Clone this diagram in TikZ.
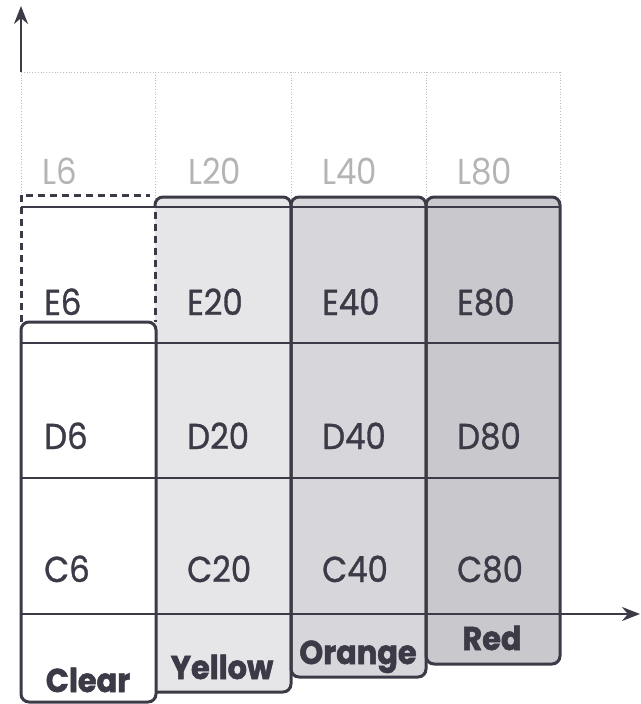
\documentclass[tikz,border=0pt]{standalone}
\usepackage{fontspec}
\setmainfont{Poppins}[FakeStretch=0.9]
\newfontfamily\cellfont{Poppins}[FakeStretch=0.9,FakeBold=0.9]
\newfontfamily\tagfont{Poppins}[FakeStretch=0.92,BoldFeatures={FakeBold=1.6}]
\usetikzlibrary{arrows.meta}
\definecolor{ink}{HTML}{3B3A46}
\definecolor{fillY}{HTML}{E6E6E9}
\definecolor{fillO}{HTML}{D7D7DB}
\definecolor{fillR}{HTML}{C9C9CD}
\definecolor{gridc}{HTML}{BDBDBD}
\definecolor{lgray}{HTML}{B4B4B4}
\begin{document}
\begin{tikzpicture}[x=1pt,y=-1pt,
  boxline/.style={draw=ink,line width=3pt,rounded corners=8pt},
  rowline/.style={draw=ink,line width=1.9pt},
  gridline/.style={draw=gridc,line width=0.8pt,dotted},
  dashbox/.style={draw=ink,line width=3pt,dash pattern=on 7pt off 5pt},
  axisline/.style={draw=ink,line width=2pt},
  tip/.style={-{Stealth[length=18pt,width=14pt]}},
  cell/.style={anchor=base west,inner sep=0pt,text=ink,font=\cellfont\fontsize{36}{36}\selectfont},
  lcell/.style={anchor=base west,inner sep=0pt,text=lgray,font=\fontsize{36}{36}\selectfont},
  tag/.style={anchor=base,inner sep=0pt,text=ink,font=\tagfont\fontsize{33}{33}\selectfont\bfseries}]
\useasboundingbox (0,0) rectangle (640,704);
% fills
\fill[fillY,rounded corners=8pt] (155,197) rectangle (291,692);
\fill[fillO,rounded corners=8pt] (291,197) rectangle (426,677);
\fill[fillR,rounded corners=8pt] (426,197) rectangle (560,664);
% grid above
\draw[gridline] (21,72) -- (560,72);
\foreach \gx in {21,155,291,426,560} \draw[gridline] (\gx,72) -- (\gx,200);
% row lines
\draw[rowline] (21,207) -- (560,207);
\draw[rowline] (21,343) -- (560,343);
\draw[rowline] (21,478) -- (560,478);
% axes
\coordinate (yb) at (21,72);
\coordinate (yt) at (21,6);
\coordinate (xl) at (21,614);
\coordinate (xr) at (640,614);
\draw[axisline,tip] (yb) -- (yt);
\draw[rowline,tip] (xl) -- (xr);
% dashed area
\draw[dashbox] (21,322) -- (21,195) -- (150,195);
\draw[dashbox] (155,212) -- (155,322);
% boxes
\draw[boxline] (155,207) -- (155,197) -- (291,197) -- (291,692) -- (156,692);
\draw[boxline] (291,197) rectangle (426,677);
\draw[boxline] (426,197) rectangle (560,664);
\draw[boxline] (21,322) rectangle (156,702);
% labels
\node[lcell] (l6) at (42,184) {L6};
\node[lcell] (l20) at (188,184) {L20};
\node[lcell] (l40) at (322,184) {L40};
\node[lcell] (l80) at (457,184) {L80};
\node[cell] (e6) at (44,315) {E6};
\node[cell] (e20) at (187,315) {E20};
\node[cell] (e40) at (322,315) {E40};
\node[cell] (e80) at (457,315) {E80};
\node[cell] (d6) at (44,449) {D6};
\node[cell] (d20) at (187,449) {D20};
\node[cell] (d40) at (322,449) {D40};
\node[cell] (d80) at (457,449) {D80};
\node[cell] (c6) at (44,582) {C6};
\node[cell] (c20) at (187,582) {C20};
\node[cell] (c40) at (322,582) {C40};
\node[cell] (c80) at (457,582) {C80};
\node[tag] (clear) at (88,692) {Clear};
\node[tag] (yellow) at (222,679) {Yellow};
\node[tag] (orange) at (358,664) {Orange};
\node[tag] (red) at (492,650) {Red};
\end{tikzpicture}
\end{document}
